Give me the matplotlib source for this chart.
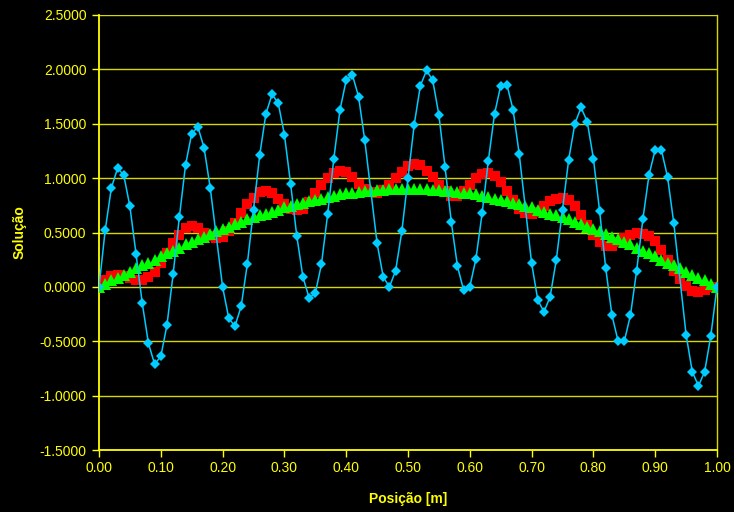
import matplotlib
matplotlib.use("Agg")
import matplotlib.pyplot as plt
from matplotlib.ticker import FormatStrFormatter

# ---- data ----
x_cyan = [0.00, 0.01, 0.02, 0.03, 0.04, 0.05, 0.06, 0.07, 0.08, 0.09,
          0.10, 0.11, 0.12, 0.13, 0.14, 0.15, 0.16, 0.17, 0.18, 0.20,
          0.21, 0.22, 0.23, 0.24, 0.25, 0.26, 0.27, 0.28, 0.29, 0.30,
          0.31, 0.32, 0.33, 0.34, 0.35, 0.36, 0.37, 0.38, 0.39, 0.40,
          0.41, 0.42, 0.43, 0.45, 0.46, 0.47, 0.48, 0.49, 0.50, 0.51,
          0.52, 0.53, 0.54, 0.55, 0.56, 0.57, 0.58, 0.59, 0.60, 0.61,
          0.62, 0.63, 0.64, 0.65, 0.66, 0.67, 0.68, 0.70, 0.71, 0.72,
          0.73, 0.74, 0.75, 0.76, 0.77, 0.78, 0.79, 0.80, 0.81, 0.82,
          0.83, 0.84, 0.85, 0.86, 0.87, 0.88, 0.89, 0.90, 0.91, 0.92,
          0.93, 0.95, 0.96, 0.97, 0.98, 0.99, 1.00]
y_cyan = [0.00, 0.52, 0.91, 1.09, 1.03, 0.74, 0.30, -0.15, -0.52, -0.71,
          -0.64, -0.35, 0.12, 0.64, 1.12, 1.41, 1.47, 1.28, 0.91, 0.00,
          -0.29, -0.36, -0.18, 0.21, 0.71, 1.21, 1.59, 1.77, 1.69, 1.40,
          0.95, 0.47, 0.09, -0.10, -0.06, 0.21, 0.67, 1.18, 1.63, 1.90,
          1.95, 1.75, 1.35, 0.40, 0.09, 0.00, 0.15, 0.51, 1.00, 1.49,
          1.85, 1.99, 1.90, 1.58, 1.10, 0.60, 0.19, -0.03, 0.00, 0.26,
          0.68, 1.16, 1.59, 1.85, 1.86, 1.63, 1.22, 0.22, -0.12, -0.23,
          -0.09, 0.25, 0.71, 1.17, 1.50, 1.65, 1.52, 1.18, 0.70, 0.17,
          -0.26, -0.50, -0.50, -0.26, 0.15, 0.62, 1.03, 1.26, 1.26, 1.01,
          0.59, -0.44, -0.78, -0.91, -0.78, -0.45, 0.00]

x_red = [0.00, 0.01, 0.02, 0.03, 0.04, 0.05, 0.06, 0.07, 0.08, 0.09,
         0.10, 0.11, 0.12, 0.13, 0.14, 0.15, 0.16, 0.17, 0.18, 0.19,
         0.20, 0.21, 0.22, 0.23, 0.24, 0.25, 0.26, 0.27, 0.28, 0.29,
         0.30, 0.31, 0.32, 0.33, 0.34, 0.35, 0.36, 0.37, 0.38, 0.39,
         0.40, 0.41, 0.42, 0.43, 0.44, 0.45, 0.46, 0.47, 0.48, 0.49,
         0.50, 0.51, 0.52, 0.53, 0.54, 0.55, 0.56, 0.57, 0.58, 0.59,
         0.60, 0.61, 0.62, 0.63, 0.64, 0.65, 0.66, 0.67, 0.68, 0.69,
         0.70, 0.71, 0.72, 0.73, 0.74, 0.75, 0.76, 0.77, 0.78, 0.79,
         0.80, 0.81, 0.82, 0.83, 0.84, 0.85, 0.86, 0.87, 0.88, 0.89,
         0.90, 0.91, 0.92, 0.93, 0.94, 0.95, 0.96, 0.97, 0.98, 0.99, 1.00]
y_red = [0.00, 0.06, 0.10, 0.11, 0.10, 0.08, 0.06, 0.06, 0.09, 0.14,
         0.22, 0.31, 0.40, 0.48, 0.54, 0.56, 0.54, 0.50, 0.47, 0.45,
         0.46, 0.51, 0.59, 0.68, 0.76, 0.82, 0.87, 0.88, 0.86, 0.81,
         0.76, 0.72, 0.71, 0.72, 0.78, 0.86, 0.94, 1.00, 1.05, 1.07,
         1.06, 1.01, 0.95, 0.90, 0.87, 0.86, 0.89, 0.94, 1.00, 1.06,
         1.11, 1.13, 1.12, 1.07, 1.01, 0.94, 0.88, 0.84, 0.84, 0.88,
         0.94, 1.00, 1.04, 1.05, 1.02, 0.96, 0.88, 0.80, 0.72, 0.68,
         0.67, 0.69, 0.74, 0.79, 0.81, 0.82, 0.80, 0.74, 0.66, 0.57,
         0.48, 0.41, 0.38, 0.38, 0.41, 0.45, 0.48, 0.50, 0.49, 0.47,
         0.42, 0.34, 0.25, 0.15, 0.07, 0.01, -0.04, -0.05, -0.03, 0.00, 0.00]

x_green = x_red
y_green = [0.00, 0.03, 0.06, 0.08, 0.11, 0.14, 0.17, 0.20, 0.22, 0.25,
           0.28, 0.31, 0.33, 0.36, 0.39, 0.41, 0.44, 0.46, 0.49, 0.51,
           0.53, 0.55, 0.58, 0.60, 0.62, 0.64, 0.66, 0.67, 0.69, 0.71,
           0.73, 0.74, 0.76, 0.77, 0.79, 0.80, 0.81, 0.83, 0.84, 0.85,
           0.86, 0.86, 0.87, 0.88, 0.88, 0.89, 0.89, 0.90, 0.90, 0.90,
           0.90, 0.90, 0.90, 0.90, 0.89, 0.89, 0.88, 0.88, 0.87, 0.86,
           0.86, 0.85, 0.84, 0.83, 0.81, 0.80, 0.79, 0.77, 0.76, 0.74,
           0.73, 0.71, 0.69, 0.67, 0.66, 0.64, 0.62, 0.60, 0.58, 0.55,
           0.53, 0.51, 0.49, 0.46, 0.44, 0.41, 0.39, 0.36, 0.33, 0.31,
           0.28, 0.25, 0.22, 0.20, 0.17, 0.14, 0.11, 0.08, 0.06, 0.03, 0.00]

x_ticks = [0.0, 0.1, 0.2, 0.3, 0.4, 0.5, 0.6, 0.7, 0.8, 0.9, 1.0]
y_ticks = [-1.5, -1.0, -0.5, 0.0, 0.5, 1.0, 1.5, 2.0, 2.5]

YEL = "#FFFF00"
GRID = "#D8D800"
CYAN = "#00CCFF"
RED = "#FF0000"
GREEN = "#00FF00"

plt.rcParams["font.family"] = ["Liberation Sans", "DejaVu Sans"]

fig = plt.figure(figsize=(7.34, 5.12), dpi=100, facecolor="black")
ax = fig.add_axes([99 / 734, 1 - 450 / 512, (717 - 99) / 734, (450 - 15) / 512])
ax.set_facecolor("black")

ax.plot(x_red, y_red, linestyle="none", marker="s", markersize=7,
        color=RED, markeredgewidth=0, zorder=3)
ax.plot(x_green, y_green, linestyle="none", marker="^", markersize=8,
        color=GREEN, markeredgewidth=0, zorder=4)
ax.plot(x_cyan, y_cyan, linestyle="-", linewidth=1.1, marker="D", markersize=5.2,
        color=CYAN, markeredgewidth=0, zorder=5)

ax.set_xlim(0, 1)
ax.set_ylim(-1.5, 2.5)
ax.set_xticks(x_ticks)
ax.set_yticks(y_ticks)
ax.xaxis.set_major_formatter(FormatStrFormatter("%.2f"))
ax.yaxis.set_major_formatter(FormatStrFormatter("%.4f"))

ax.grid(axis="y", color=GRID, linewidth=1.0, zorder=1)
ax.set_axisbelow(True)

ax.spines["top"].set_visible(False)
for side in ["left", "right", "bottom"]:
    ax.spines[side].set_color(YEL)
    ax.spines[side].set_linewidth(1.3)
ax.spines["right"].set_color(GRID)
ax.spines["right"].set_linewidth(1.0)

ax.tick_params(axis="both", colors=YEL, labelcolor=YEL, labelsize=10,
               direction="out", length=5, width=1)
ax.tick_params(axis="x", pad=3)
ax.tick_params(axis="y", pad=4)

ax.set_xlabel("Posição [m]", color=YEL, fontsize=10, fontweight="bold", labelpad=12)
ax.set_ylabel("Solução", color=YEL, fontsize=10, fontweight="bold", labelpad=9)

fig.savefig("out.png", dpi=100, facecolor="black")
